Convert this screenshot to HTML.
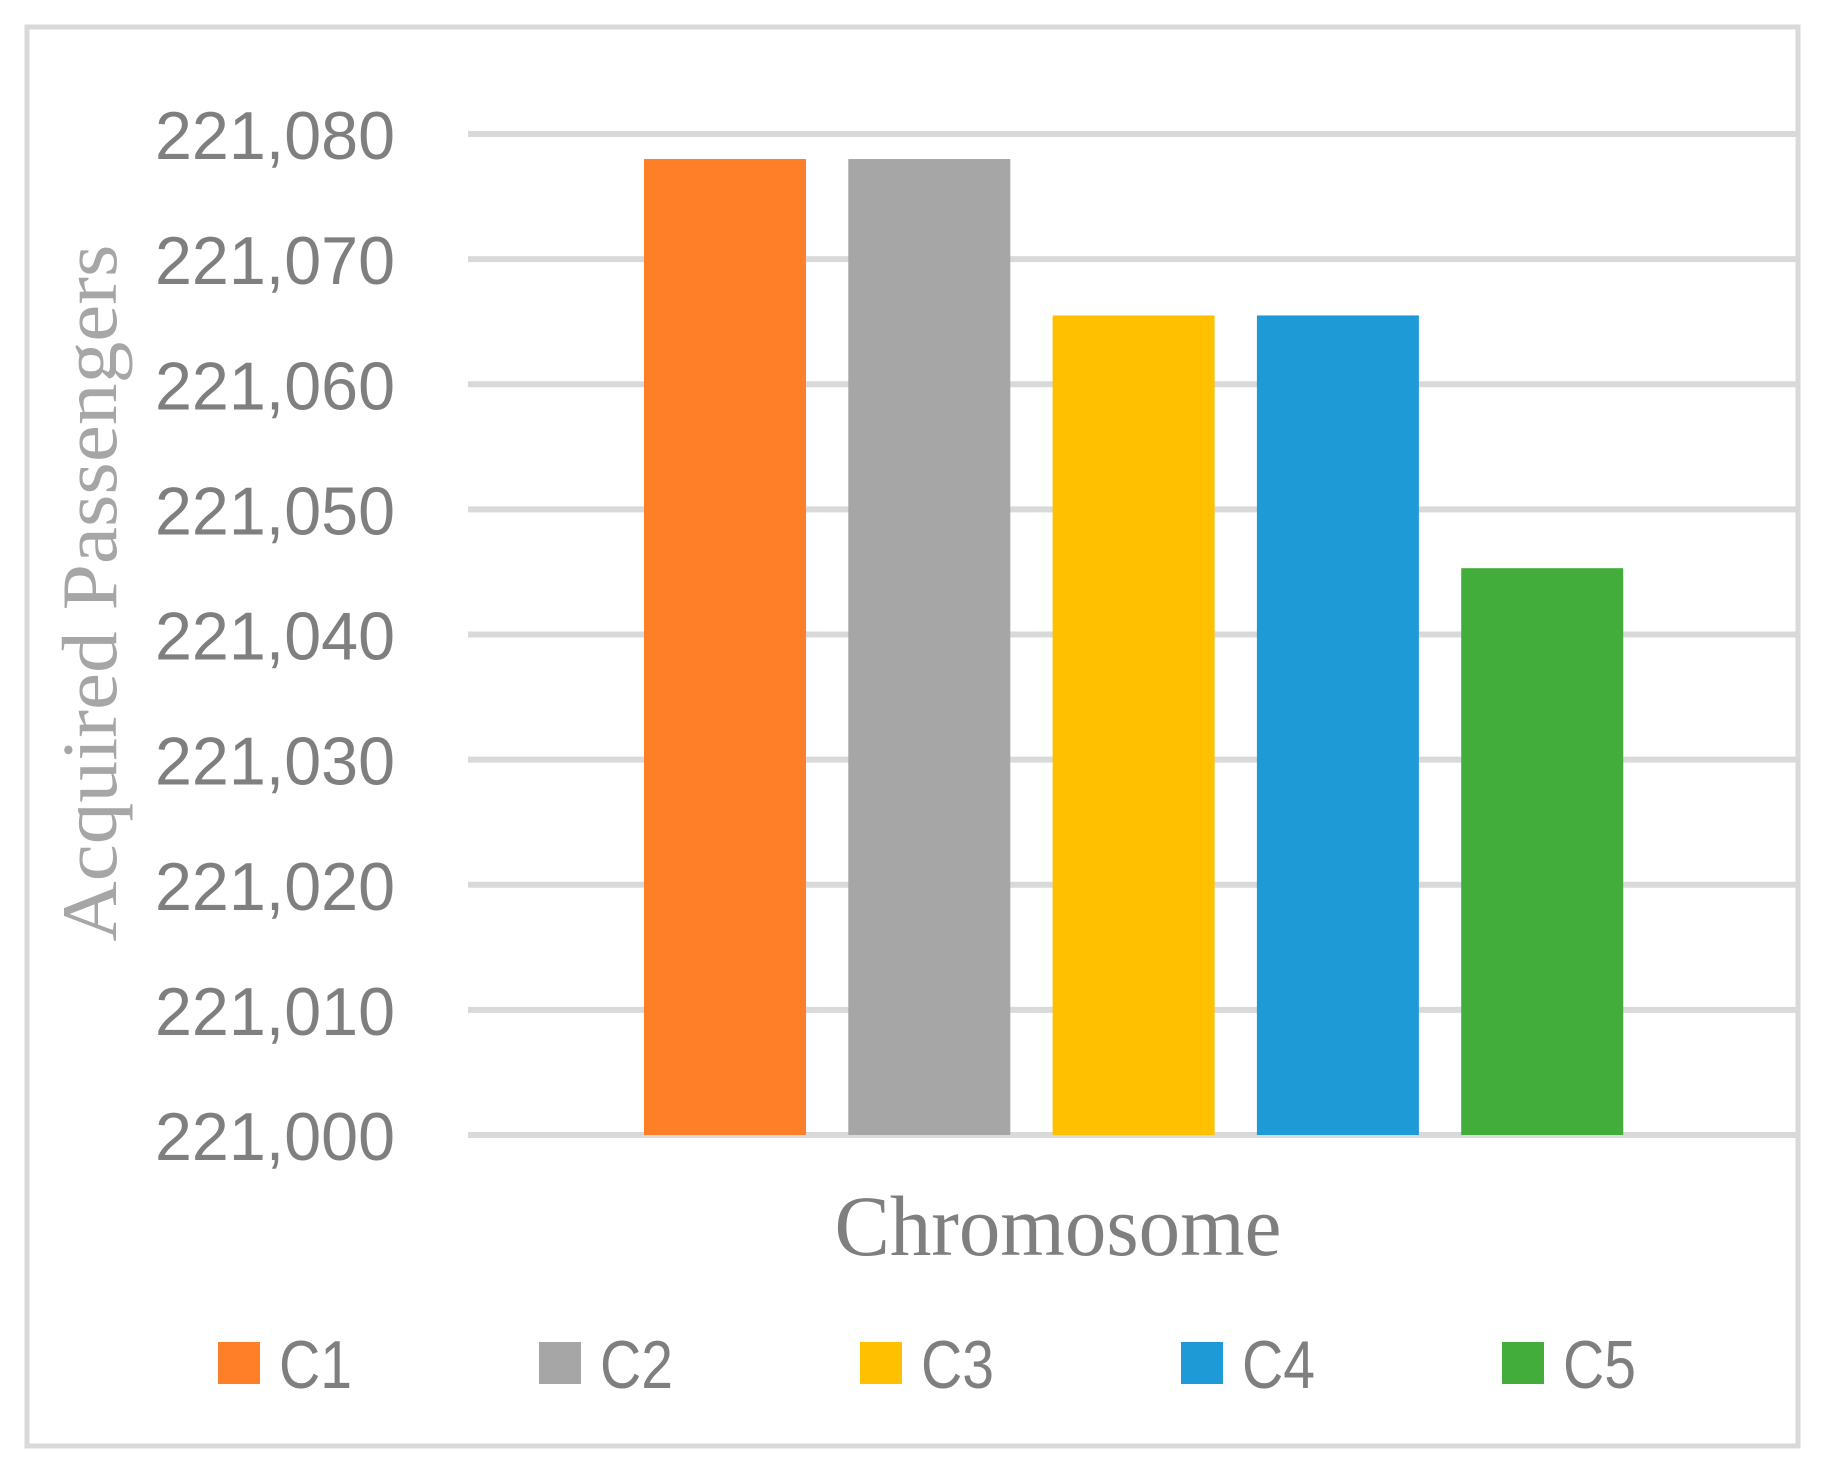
<!DOCTYPE html>
<html><head><meta charset="utf-8"><style>
html,body{margin:0;padding:0;background:#fff;}
svg{display:block;}
</style></head><body>
<svg width="1822" height="1473" viewBox="0 0 1822 1473" xmlns="http://www.w3.org/2000/svg">
<rect x="27" y="27" width="1771" height="1419" fill="#fff" stroke="#d9d9d9" stroke-width="5"/>
<g id="grid"></g>
<g id="yticks"></g>
<g id="bars"></g>
<text x="0" y="0" transform="translate(116,593) rotate(-90)" text-anchor="middle" font-family="Liberation Serif, serif" font-size="78" fill="#a6a6a6" textLength="697" lengthAdjust="spacingAndGlyphs">Acquired Passengers</text>
<text x="1058" y="1255" text-anchor="middle" font-family="Liberation Serif, serif" font-size="86" fill="#7f7f7f" textLength="447" lengthAdjust="spacingAndGlyphs">Chromosome</text>
<g id="legend"></g>
</svg>
<script>
const categories = ['C1','C2','C3','C4','C5'];
const values = [221078, 221078, 221065.5, 221065.5, 221045.3];
const colors = ['#fe7f27','#a6a6a6','#ffc000','#1e9bd7','#43ad3b'];
const tickValues = [221000,221010,221020,221030,221040,221050,221060,221070,221080];
const tickLabels = ['221,000','221,010','221,020','221,030','221,040','221,050','221,060','221,070','221,080'];
const NS='http://www.w3.org/2000/svg';
const yMin=221000, yMax=221080, yTop=134, yBot=1135;
function y(v){return yBot-(v-yMin)/(yMax-yMin)*(yBot-yTop);}
function xBar(i){return 644+i*204.3;}
const barW=162;
const grid=document.getElementById('grid'), yt=document.getElementById('yticks'), bars=document.getElementById('bars'), leg=document.getElementById('legend');
tickValues.forEach((v,i)=>{
  const l=document.createElementNS(NS,'line');
  l.setAttribute('x1',468);l.setAttribute('x2',1798);l.setAttribute('y1',y(v));l.setAttribute('y2',y(v));
  l.setAttribute('stroke','#d9d9d9');l.setAttribute('stroke-width','6');
  
  
  grid.appendChild(l);
  const t=document.createElementNS(NS,'text');
  t.setAttribute('x',395);t.setAttribute('y',y(v)+25);t.setAttribute('text-anchor','end');
  t.setAttribute('font-family','Liberation Sans, sans-serif');t.setAttribute('font-size','68');t.setAttribute('fill','#7f7f7f');
  t.setAttribute('textLength','240');t.setAttribute('lengthAdjust','spacingAndGlyphs');
  t.textContent=tickLabels[i];
  
  
  yt.appendChild(t);
});
categories.forEach((c,i)=>{
  const r=document.createElementNS(NS,'rect');
  r.setAttribute('x',xBar(i));r.setAttribute('y',y(values[i]));r.setAttribute('width',barW);r.setAttribute('height',yBot-y(values[i]));
  r.setAttribute('fill',colors[i]);
  
  
  bars.appendChild(r);
  const lx=218+i*321;
  const s=document.createElementNS(NS,'rect');
  s.setAttribute('x',lx);s.setAttribute('y',1342);s.setAttribute('width',42);s.setAttribute('height',42);s.setAttribute('fill',colors[i]);
  
  
  leg.appendChild(s);
  const t=document.createElementNS(NS,'text');
  t.setAttribute('x',lx+61);t.setAttribute('y',1388);
  t.setAttribute('font-family','Liberation Sans, sans-serif');t.setAttribute('font-size','68');t.setAttribute('fill','#7f7f7f');
  t.setAttribute('textLength','73');t.setAttribute('lengthAdjust','spacingAndGlyphs');
  t.textContent=c;
  
  
  leg.appendChild(t);
});
</script>
</body></html>
